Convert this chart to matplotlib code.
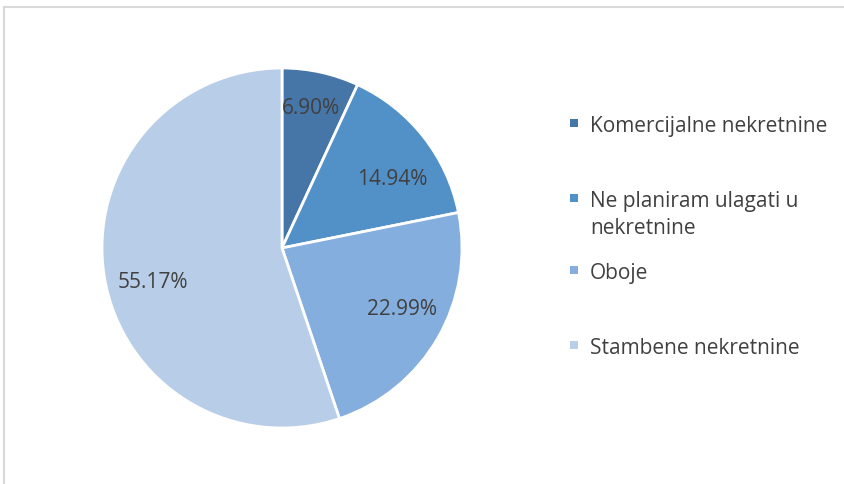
import matplotlib
matplotlib.use('Agg')
import numpy as np
import matplotlib.pyplot as plt
from matplotlib.lines import Line2D
from matplotlib.patches import Rectangle

# data
categories = ['Komercijalne nekretnine', 'Ne planiram ulagati u\nnekretnine',
              'Oboje', 'Stambene nekretnine']
shares = [6.90, 14.94, 22.99, 55.17]
colors = ['#4676a8', '#5290c8', '#84aedd', '#b8cde8']
legend_y = [124, 199, 271, 346]  # pixel rows of the first text line

# label placement (fraction of radius, angular nudge in degrees)
label_r = [0.81, 0.73, 0.74, 0.74]
label_nudge = [1, -5, 4, 4]

W, H = 845, 485
plt.rcParams['font.family'] = ['Open Sans', 'DejaVu Sans']
fig = plt.figure(figsize=(W / 100, H / 100), dpi=100)

# pie axes, center (282, 249) px, radius 180 px
cx, cy, r = 282, 249, 180
ax = fig.add_axes([(cx - r) / W, (H - cy - r) / H, 2 * r / W, 2 * r / H])
wedges, texts, pcts = ax.pie(
    shares, colors=colors, startangle=90, counterclock=False,
    autopct=lambda p: f'{p:.2f}%', pctdistance=0.74,
    wedgeprops=dict(edgecolor='white', linewidth=2),
    textprops=dict(fontsize=15, color='#404040'))
for w, t, rr, nd in zip(wedges, pcts, label_r, label_nudge):
    mid = np.deg2rad((w.theta1 + w.theta2) / 2 + nd)
    t.set_position((rr * np.cos(mid), rr * np.sin(mid)))
    t.set_va('center_baseline')
ax.set_xlim(-1, 1)
ax.set_ylim(-1, 1)
ax.set_aspect('equal')
ax.axis('off')

# legend drawn by hand so the wrapped label lines up like the original
for label, col, y in zip(categories, colors, legend_y):
    fy = 1 - y / H
    fig.add_artist(Rectangle(((574 - 4) / W, fy - 4 / H), 8 / W, 8 / H,
                             transform=fig.transFigure, facecolor=col,
                             edgecolor='none'))
    for i, line in enumerate(label.split('\n')):
        fig.text(590 / W, fy - i * 27 / H, line, fontsize=15,
                 color='#404040', va='center_baseline')

# partial chart frame (top and left edges)
frame = dict(color='#d9d9d9', linewidth=1.5, transform=fig.transFigure)
fig.add_artist(Line2D([4 / W, 1], [1 - 7.5 / H] * 2, **frame))
fig.add_artist(Line2D([4 / W] * 2, [0, 1 - 7.5 / H], **frame))

fig.savefig('out.png', dpi=100)
